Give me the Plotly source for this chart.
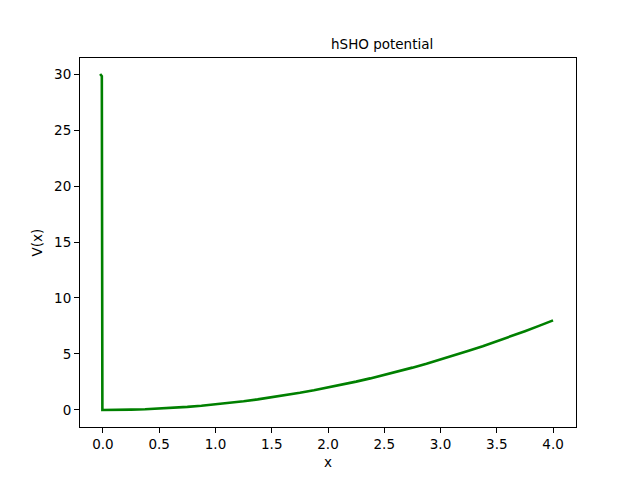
import plotly.graph_objects as go

x_vals = [-0.025, -0.01, -0.005, 0.0, 0.125, 0.25, 0.375, 0.5, 0.625, 0.75, 0.875,
          1.0, 1.125, 1.25, 1.375, 1.5, 1.625, 1.75, 1.875, 2.0,
          2.125, 2.25, 2.375, 2.5, 2.625, 2.75, 2.875, 3.0,
          3.125, 3.25, 3.375, 3.5, 3.625, 3.75, 3.875, 4.0]
v_vals = [30.0, 29.8, 0.0, 0.0, 0.0078, 0.0313, 0.0703, 0.125, 0.1953, 0.2813, 0.3828,
          0.5, 0.6328, 0.7813, 0.9453, 1.125, 1.3203, 1.5313, 1.7578, 2.0,
          2.2578, 2.5313, 2.8203, 3.125, 3.4453, 3.7813, 4.1328, 4.5,
          4.8828, 5.2813, 5.6953, 6.125, 6.5703, 7.0313, 7.5078, 8.0]
x_ticks = [0.0, 0.5, 1.0, 1.5, 2.0, 2.5, 3.0, 3.5, 4.0]
y_ticks = [0, 5, 10, 15, 20, 25, 30]

fig = go.Figure()
fig.add_trace(go.Scatter(x=x_vals, y=v_vals, mode="lines",
                         line=dict(color="#008000", width=2.6),
                         showlegend=False))

font = dict(family="DejaVu Sans", size=13.5, color="black")
fig.update_layout(
    width=640, height=480,
    margin=dict(l=72, r=72, t=50, b=61),
    paper_bgcolor="white", plot_bgcolor="white",
    font=font,
    annotations=[dict(text="hSHO potential", xref="paper", yref="paper",
                      x=(382 - 80) / 496, y=1.0, yshift=4, showarrow=False,
                      xanchor="center", yanchor="bottom", font=font)],
)
fig.update_xaxes(range=[-0.204, 4.204], tickvals=x_ticks,
                 ticktext=[f"{t:.1f}" for t in x_ticks],
                 showgrid=False, zeroline=False, showline=True, linecolor="black",
                 linewidth=1, mirror=True, ticks="outside", ticklen=5, tickwidth=1,
                 tickcolor="black", title=dict(text="x", font=font, standoff=6))
fig.update_yaxes(range=[-1.52, 31.43], tickvals=y_ticks,
                 showgrid=False, zeroline=False, showline=True, linecolor="black",
                 linewidth=1, mirror=True, ticks="outside", ticklen=5, tickwidth=1,
                 tickcolor="black", title=dict(text="V(x)", font=font, standoff=8))

fig.write_html("out.html")
